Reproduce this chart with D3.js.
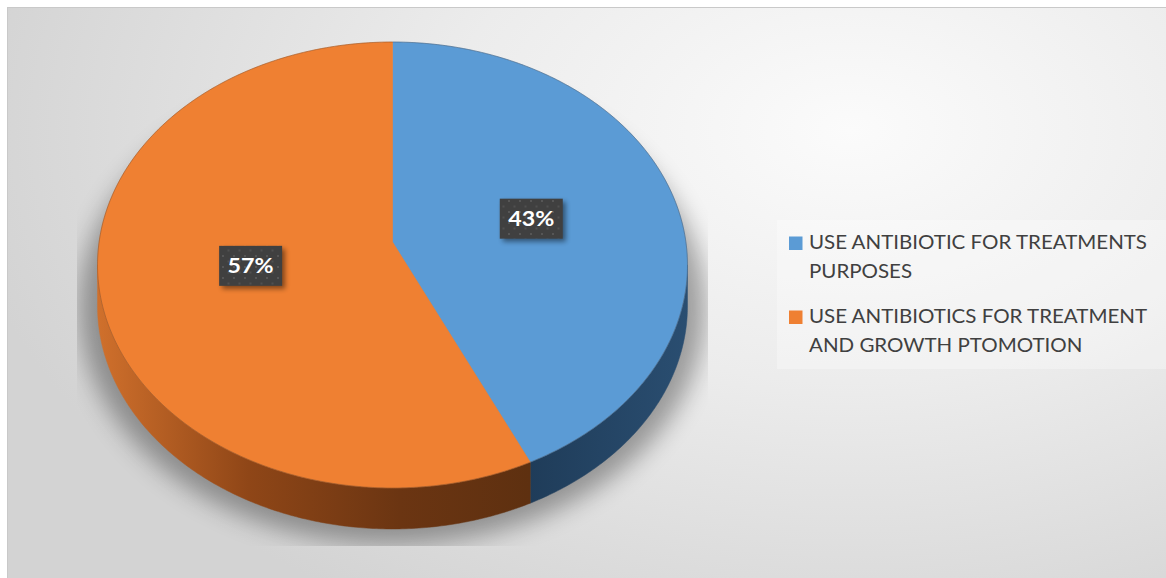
<!DOCTYPE html>
<html>
<head>
<meta charset="utf-8">
<script src="https://cdn.jsdelivr.net/npm/d3@7"></script>
<style>
  html, body { margin: 0; padding: 0; background: #fff; }
  svg { display: block; }
</style>
</head>
<body>
<svg id="chart" width="1166" height="578"></svg>
<script>
// ---- data ----
const categories = ["USE ANTIBIOTIC FOR TREATMENTS PURPOSES", "USE ANTIBIOTICS FOR TREATMENT AND GROWTH PTOMOTION"];
const legendLines = [["USE ANTIBIOTIC FOR TREATMENTS", "PURPOSES"], ["USE ANTIBIOTICS FOR TREATMENT", "AND GROWTH PTOMOTION"]];
const values = [43, 57];
const valueLabels = ["43%", "57%"];
const topColors = ["#5b9bd5", "#ef8032"];

// ---- geometry ----
const svg = d3.select("#chart");
const W = 1166, H = 578;
const cx = 392.5, cy = 242, A = 293.4, B = 220.6, p = 0.1031, depth = 41;
const FONT = "Lato, 'Open Sans', 'Liberation Sans', sans-serif";

function proj(theta, f) {
  const X = f * Math.sin(theta), Z = f * Math.cos(theta);
  const k = 1 + p * Z;
  return [cx + A * X / k, cy - B * Z / k];
}
function arcPts(a0, a1, f, dy) {
  const n = Math.max(2, Math.ceil((a1 - a0) / 0.01));
  const pts = [];
  for (let i = 0; i <= n; i++) {
    const t = a0 + (a1 - a0) * i / n;
    const q = proj(t, f);
    pts.push([q[0], q[1] + (dy || 0)]);
  }
  return pts;
}
const line = d3.line();

const defs = svg.append("defs");
// background gradient
const bg = defs.append("radialGradient").attr("id", "bgGrad")
  .attr("gradientUnits", "userSpaceOnUse")
  .attr("cx", 850).attr("cy", 130).attr("r", 560)
  .attr("gradientTransform", "translate(850,130) scale(1.6,1) translate(-850,-130)");
bg.append("stop").attr("offset", 0).attr("stop-color", "#fbfbfb");
bg.append("stop").attr("offset", 0.45).attr("stop-color", "#ececec");
bg.append("stop").attr("offset", 1).attr("stop-color", "#d3d3d3");

// side gradients
const og = defs.append("linearGradient").attr("id", "sideOrange")
  .attr("gradientUnits", "userSpaceOnUse").attr("x1", 97).attr("x2", 530).attr("y1", 0).attr("y2", 0);
og.append("stop").attr("offset", 0).attr("stop-color", "#d0702c");
og.append("stop").attr("offset", 0.35).attr("stop-color", "#8f4617");
og.append("stop").attr("offset", 0.7).attr("stop-color", "#6b3512");
og.append("stop").attr("offset", 1).attr("stop-color", "#5e3010");
const blg = defs.append("linearGradient").attr("id", "sideBlue")
  .attr("gradientUnits", "userSpaceOnUse").attr("x1", 528).attr("x2", 690).attr("y1", 0).attr("y2", 0);
blg.append("stop").attr("offset", 0).attr("stop-color", "#1f3c59");
blg.append("stop").attr("offset", 1).attr("stop-color", "#2a4e71");
const sideFills = ["url(#sideBlue)", "url(#sideOrange)"];

// blur filters
const fShadow = defs.append("filter").attr("id", "pieShadow").attr("x", "-30%").attr("y", "-30%").attr("width", "160%").attr("height", "160%");
fShadow.append("feGaussianBlur").attr("stdDeviation", 12);
const fLab = defs.append("filter").attr("id", "labShadow").attr("x", "-30%").attr("y", "-30%").attr("width", "160%").attr("height", "160%");
fLab.append("feGaussianBlur").attr("stdDeviation", 2.5);

defs.append("clipPath").attr("id", "plotClip").append("rect")
  .attr("x", 77).attr("y", 10).attr("width", 631).attr("height", 536);

// dot pattern for labels
const pat = defs.append("pattern").attr("id", "dots").attr("patternUnits", "userSpaceOnUse")
  .attr("width", 11).attr("height", 11);
pat.append("rect").attr("width", 11).attr("height", 11).attr("fill", "#404040");
pat.append("rect").attr("x", 2).attr("y", 2).attr("width", 2).attr("height", 2).attr("fill", "#565656");
pat.append("rect").attr("x", 7.5).attr("y", 7.5).attr("width", 2).attr("height", 2).attr("fill", "#505050");

// background
svg.append("rect").attr("x", 7.5).attr("y", 7.5).attr("width", W + 10).attr("height", H + 10)
  .attr("fill", "url(#bgGrad)").attr("stroke", "#c9c9c9").attr("stroke-width", 1);

// ---- pie ----
const pie = d3.pie().sort(null).value(d => d);
const arcs = pie(values);

// shadow silhouette
const visA0 = Math.acos(-p), visA1 = 2 * Math.PI - Math.acos(-p);
const outline = arcPts(0, 2 * Math.PI, 1.06, 0);
svg.append("g").attr("clip-path", "url(#plotClip)")
  .append("path")
  .attr("d", line(outline) + "Z")
  .attr("transform", "translate(0,40)")
  .attr("fill", "#000").attr("opacity", 0.34)
  .attr("filter", "url(#pieShadow)");

const gPie = svg.append("g");
// sides
arcs.forEach((a, i) => {
  const s = Math.max(a.startAngle, visA0), e = Math.min(a.endAngle, visA1);
  if (e <= s) return;
  const topPts = arcPts(s, e, 1, 0);
  const botPts = arcPts(s, e, 1, depth).reverse();
  gPie.append("path")
    .attr("d", line(topPts.concat(botPts)) + "Z")
    .attr("fill", sideFills[i])
    .attr("stroke", sideFills[i]).attr("stroke-width", 0.5);
});
// top faces
arcs.forEach((a, i) => {
  const pts = [proj(0, 0)].concat(arcPts(a.startAngle, a.endAngle, 1, 0));
  gPie.append("path")
    .attr("d", line(pts) + "Z")
    .attr("fill", topColors[i])
    .attr("stroke", topColors[i]).attr("stroke-width", 0.6);
});
// thin rim
gPie.append("path").attr("d", line(arcPts(0, 2 * Math.PI, 1, 0)) + "Z")
  .attr("fill", "none").attr("stroke", "rgba(60,40,30,0.35)").attr("stroke-width", 0.8);

// ---- data labels ----
const gLab = svg.append("g");
arcs.forEach((a, i) => {
  const mid = (a.startAngle + a.endAngle) / 2;
  const c = proj(mid, 0.49);
  const bw = 63, bh = 40;
  gLab.append("rect").attr("x", c[0] - bw / 2 + 3).attr("y", c[1] - bh / 2 + 3)
    .attr("width", bw).attr("height", bh).attr("fill", "#000").attr("opacity", 0.45)
    .attr("filter", "url(#labShadow)");
  gLab.append("rect").attr("x", c[0] - bw / 2).attr("y", c[1] - bh / 2)
    .attr("width", bw).attr("height", bh).attr("fill", "url(#dots)");
  const t = gLab.append("text").attr("x", c[0]).attr("y", c[1] + 7.5)
    .attr("text-anchor", "middle").attr("fill", "#fff")
    .attr("font-family", FONT).attr("font-weight", 700).attr("font-size", 21)
    .text(valueLabels[i]);
  const len = t.node().getComputedTextLength();
  t.attr("textLength", 46).attr("lengthAdjust", "spacingAndGlyphs");
});

// ---- legend ----
const gLeg = svg.append("g");
gLeg.append("rect").attr("x", 777).attr("y", 220).attr("width", 390).attr("height", 149)
  .attr("fill", "#fff").attr("opacity", 0.3);
const legSize = 19.5;
const probe = gLeg.append("text").attr("font-family", FONT).attr("font-size", legSize).text(legendLines[0][0]);
const squeeze = 338 / probe.node().getComputedTextLength();
probe.remove();
const entryY = [249, 323];
legendLines.forEach((lines, i) => {
  gLeg.append("rect").attr("x", 789).attr("y", entryY[i] - 12.5)
    .attr("width", 13.5).attr("height", 13.5).attr("fill", topColors[i]);
  lines.forEach((ln, j) => {
    const t = gLeg.append("text").attr("x", 809).attr("y", entryY[i] + j * 29)
      .attr("font-family", FONT).attr("font-size", legSize).attr("fill", "#404040")
      .text(ln);
    const w = t.node().getComputedTextLength();
    t.attr("textLength", w * squeeze).attr("lengthAdjust", "spacingAndGlyphs");
  });
});
</script>
</body>
</html>
